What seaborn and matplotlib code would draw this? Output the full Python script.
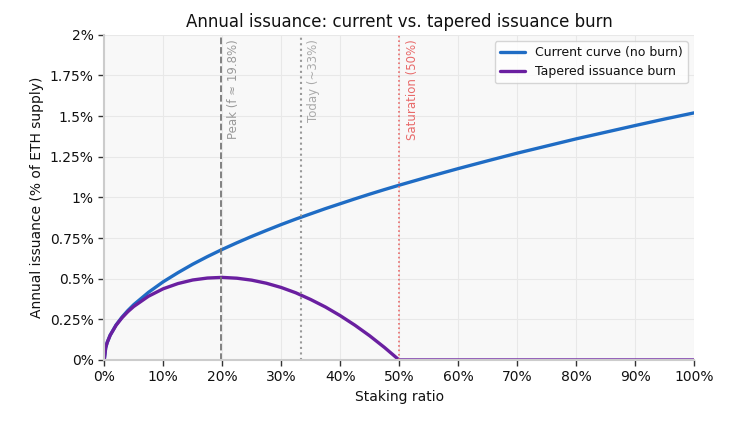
import pandas as pd
import matplotlib
matplotlib.use("Agg")
import matplotlib.pyplot as plt
import seaborn as sns
from matplotlib.ticker import FuncFormatter

# Staking ratio grid and issuance (% of ETH supply)
staking_ratio = [0.0, 0.0025, 0.005, 0.01, 0.02, 0.03, 0.04, 0.05, 0.075, 0.1,
                 0.125, 0.15, 0.175, 0.2, 0.225, 0.25, 0.275, 0.3, 0.325, 0.35,
                 0.375, 0.4, 0.425, 0.45, 0.475, 0.5, 0.55, 0.6, 0.65, 0.7,
                 0.75, 0.8, 0.85, 0.9, 0.95, 1.0]
current_curve = [0.0, 0.076, 0.1075, 0.152, 0.215, 0.263, 0.304, 0.340, 0.416, 0.481,
                 0.537, 0.589, 0.636, 0.680, 0.721, 0.760, 0.797, 0.833, 0.867, 0.899,
                 0.931, 0.961, 0.991, 1.020, 1.048, 1.075, 1.127, 1.177, 1.225, 1.272,
                 1.316, 1.360, 1.401, 1.442, 1.482, 1.520]
tapered_burn = [0.0, 0.076, 0.107, 0.1516, 0.213, 0.259, 0.297, 0.329, 0.392, 0.438,
                0.470, 0.492, 0.504, 0.508, 0.503, 0.491, 0.472, 0.446, 0.413, 0.372,
                0.326, 0.273, 0.214, 0.149, 0.0775, 0.0, 0.0, 0.0, 0.0, 0.0,
                0.0, 0.0, 0.0, 0.0, 0.0, 0.0]

peak_f = 0.198
today_f = 0.333
saturation_f = 0.5

df = pd.DataFrame({"f": staking_ratio, "current": current_curve, "tapered": tapered_burn})

sns.set_theme(style="whitegrid")
plt.rcParams["font.family"] = ["DejaVu Sans"]
plt.rcParams["text.color"] = "#111111"
plt.rcParams["axes.labelcolor"] = "#111111"
plt.rcParams["xtick.color"] = "#111111"
plt.rcParams["ytick.color"] = "#111111"

fig, ax = plt.subplots(figsize=(7.34, 4.25), dpi=100)
fig.subplots_adjust(left=0.142, right=0.9455, top=0.918, bottom=0.153)
ax.set_facecolor("#f8f8f8")

sns.lineplot(x="f", y="current", data=df, ax=ax, color="#1f6cc4", linewidth=2.4,
             label="Current curve (no burn)")
sns.lineplot(x="f", y="tapered", data=df, ax=ax, color="#6a1fa0", linewidth=2.4,
             label="Tapered issuance burn")

# Reference markers
ax.axvline(peak_f, color="#777777", linestyle="--", linewidth=1.3)
ax.axvline(today_f, color="#999999", linestyle=":", linewidth=1.5)
ax.axvline(saturation_f, color="#e86a6a", linestyle=":", linewidth=1.2)
ax.text(peak_f + 0.011, 1.975, "Peak (f ≈ 19.8%)", rotation=90, va="top", ha="left",
        fontsize=8.5, color="#999999")
ax.text(today_f + 0.011, 1.975, "Today (~33%)", rotation=90, va="top", ha="left",
        fontsize=8.5, color="#aaaaaa")
ax.text(saturation_f + 0.011, 1.975, "Saturation (50%)", rotation=90, va="top", ha="left",
        fontsize=8.5, color="#e86a6a")

ax.set_xlim(0, 1)
ax.set_ylim(0, 2)
ax.set_xticks([i / 10 for i in range(11)])
ax.set_yticks([0, 0.25, 0.5, 0.75, 1, 1.25, 1.5, 1.75, 2])
ax.xaxis.set_major_formatter(FuncFormatter(lambda v, _: f"{v * 100:.0f}%"))
ax.yaxis.set_major_formatter(FuncFormatter(lambda v, _: f"{v:g}%"))
ax.tick_params(axis="both", which="both", length=4, width=1, color="#333333",
               labelsize=10, bottom=True, left=True)
ax.grid(color="#e8e8e8", linewidth=0.8)

for side in ["top", "right"]:
    ax.spines[side].set_visible(False)
for side in ["left", "bottom"]:
    ax.spines[side].set_color("#cccccc")
    ax.spines[side].set_linewidth(1.5)

ax.set_title("Annual issuance: current vs. tapered issuance burn", fontsize=12)
ax.set_xlabel("Staking ratio", fontsize=10)
ax.set_ylabel("Annual issuance (% of ETH supply)", fontsize=10)
ax.legend(loc="upper right", fontsize=9, frameon=True, facecolor="white", edgecolor="#cccccc")

plt.savefig("out.png", dpi=100)
